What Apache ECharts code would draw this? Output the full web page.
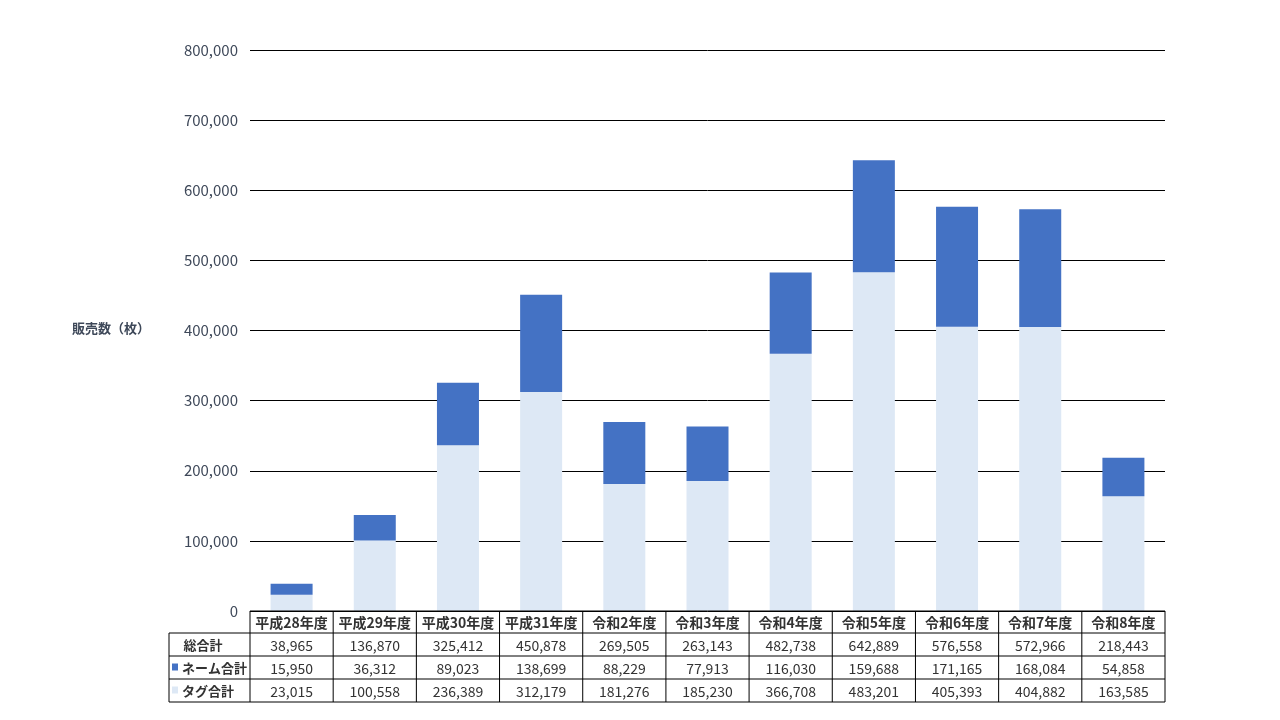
<!DOCTYPE html>
<html><head><meta charset="utf-8">
<script src="https://cdn.jsdelivr.net/npm/echarts@6/dist/echarts.min.js"></script>
<style>html,body{margin:0;padding:0;background:#fff}#c{width:1280px;height:720px}</style>
</head><body><div id="c"></div>
<script>
const categories = ['平成28年度','平成29年度','平成30年度','平成31年度','令和2年度','令和3年度','令和4年度','令和5年度','令和6年度','令和7年度','令和8年度'];
const totalValues = [38965,136870,325412,450878,269505,263143,482738,642889,576558,572966,218443];
const nameValues = [15950,36312,89023,138699,88229,77913,116030,159688,171165,168084,54858];
const tagValues = [23015,100558,236389,312179,181276,185230,366708,483201,405393,404882,163585];
const yTicks = [0,100000,200000,300000,400000,500000,600000,700000,800000];
const rowLabels = ['総合計','ネーム合計','タグ合計'];

const FONT = '"Noto Sans CJK JP", "Noto Sans", sans-serif';
const NAME_COLOR = '#4472c4';
const TAG_COLOR = '#dde8f5';
const chart = echarts.init(document.getElementById('c'));
const fmt = v => v.toLocaleString('en-US');

chart.setOption({
  animation: false,
  textStyle: {fontFamily: FONT},
  grid: {left: 250, right: 115, top: 50, bottom: 109},
  xAxis: {type: 'category', data: categories, axisLine: {show: false}, axisTick: {show: false}, axisLabel: {show: false}},
  yAxis: {
    type: 'value', min: yTicks[0], max: yTicks[yTicks.length-1], interval: 100000,
    axisLabel: {formatter: v => fmt(v), color: '#3e4859', fontSize: 15, margin: 12, fontFamily: FONT},
    splitLine: {lineStyle: {color: '#000', width: 1}},
    axisLine: {show: false}, axisTick: {show: false}
  },
  series: [
    {name: 'タグ合計', type: 'bar', stack: 's', data: tagValues, barWidth: 42, itemStyle: {color: TAG_COLOR}},
    {name: 'ネーム合計', type: 'bar', stack: 's', data: nameValues, barWidth: 42, itemStyle: {color: NAME_COLOR}}
  ]
});

// Data table under the chart
const left = 250, right = 1165, labelLeft = 169;
const rowY = [611, 633, 656, 679, 702];
const cw = (right - left) / categories.length;
const els = [];
const line = (x1,y1,x2,y2) => els.push({type:'line', shape:{x1,y1,x2,y2}, style:{stroke:'#000', lineWidth:1}, z:100});
line(left, rowY[0], right, rowY[0]);
for (let r = 1; r < rowY.length; r++) line(labelLeft, rowY[r], right, rowY[r]);
line(labelLeft, rowY[1], labelLeft, rowY[4]);
for (let i = 0; i <= categories.length; i++) {
  const x = left + i * cw;
  line(x, rowY[0], x, rowY[4]);
}
const txt = (t, x, y, opts) => els.push({type:'text', x, y, z:101, style: Object.assign({text: t, fill:'#222', font: '13px ' + FONT, align:'center', verticalAlign:'middle'}, opts || {})});
categories.forEach((c, i) => {
  const cx = chart.convertToPixel({xAxisIndex: 0}, i);
  txt(c, cx, (rowY[0]+rowY[1])/2 + 1, {font: 'bold 14px ' + FONT, fill: '#333'});
  [totalValues, nameValues, tagValues].forEach((arr, r) => {
    txt(fmt(arr[i]), cx, (rowY[r+1]+rowY[r+2])/2 + 1, {fill: '#333', font: '14px ' + FONT});
  });
});
txt(rowLabels[0], 203, (rowY[1]+rowY[2])/2 + 1, {font: 'bold 13px ' + FONT, fill: '#333'});
txt(rowLabels[1], 182, (rowY[2]+rowY[3])/2 + 1, {font: 'bold 13px ' + FONT, fill: '#333', align: 'left'});
txt(rowLabels[2], 182, (rowY[3]+rowY[4])/2 + 1, {font: 'bold 13px ' + FONT, fill: '#333', align: 'left'});
els.push({type:'rect', shape:{x:172, y:(rowY[2]+rowY[3])/2 - 4, width:6, height:7}, style:{fill: NAME_COLOR}, z:101});
els.push({type:'rect', shape:{x:172, y:(rowY[3]+rowY[4])/2 - 4, width:6, height:7}, style:{fill: TAG_COLOR}, z:101});
txt('販売数（枚）', 72, 328, {font: 'bold 13px ' + FONT, fill: '#3e4859', align: 'left'});

chart.setOption({graphic: {elements: els}});
</script>
</body></html>
